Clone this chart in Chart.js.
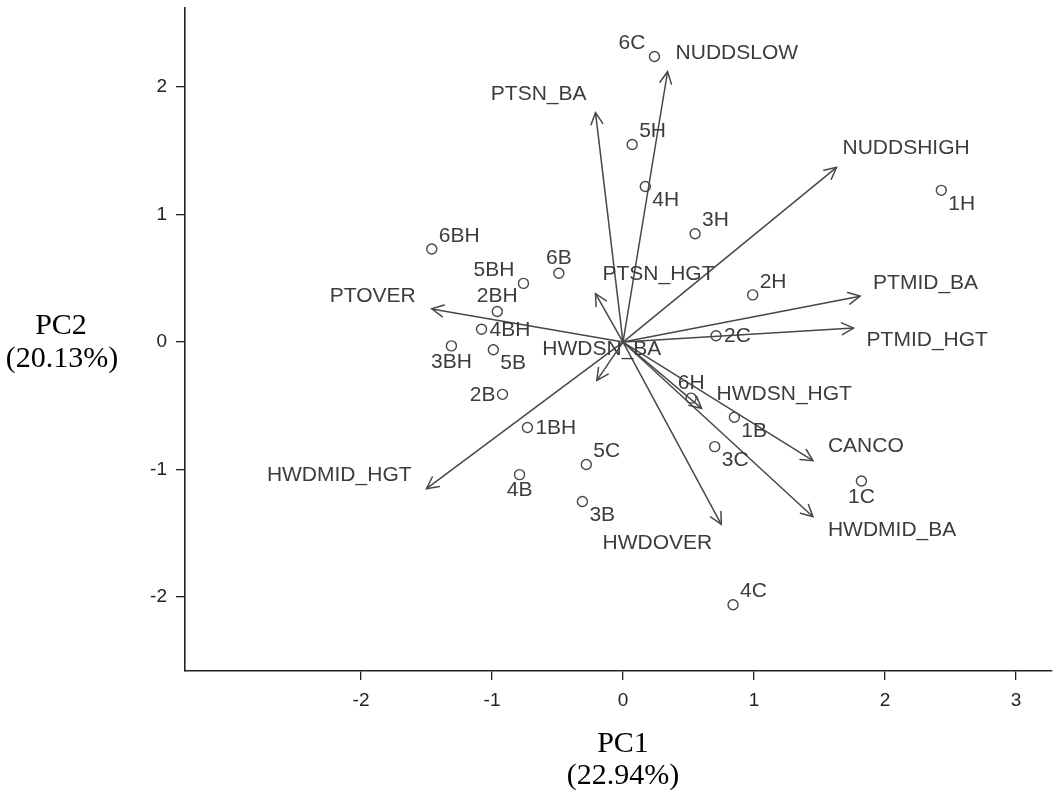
<!DOCTYPE html>
<html>
<head>
<meta charset="utf-8">
<title>PCA biplot</title>
<script src="https://cdn.jsdelivr.net/npm/chart.js@4.4.1/dist/chart.umd.min.js"></script>
<style>
  html, body { margin: 0; padding: 0; background: #ffffff; }
  canvas { display: block; }
</style>
</head>
<body>
<canvas id="biplot" width="1054" height="799"></canvas>
<script>
// Site scores on the first two principal components
const siteNames = ['6C', '5H', '4H', '3H', '1H', '2H', '2C', '6H', '1B', '3C', '1C', '4C',
                   '6BH', '6B', '5BH', '2BH', '4BH', '3BH', '5B', '2B', '1BH', '5C', '4B', '3B'];
const sitePC1 = [0.24, 0.07, 0.17, 0.55, 2.43, 0.99, 0.71, 0.52, 0.85, 0.70, 1.82, 0.84,
                 -1.46, -0.49, -0.76, -0.96, -1.08, -1.31, -0.99, -0.92, -0.73, -0.28, -0.79, -0.31];
const sitePC2 = [2.24, 1.55, 1.22, 0.85, 1.19, 0.37, 0.05, -0.44, -0.59, -0.82, -1.09, -2.06,
                 0.73, 0.54, 0.46, 0.24, 0.10, -0.03, -0.06, -0.41, -0.67, -0.96, -1.04, -1.25];

// Variable loadings (drawn as arrows from the origin)
const varNames = ['NUDDSLOW', 'PTSN_BA', 'NUDDSHIGH', 'PTMID_BA', 'PTMID_HGT', 'PTOVER', 'PTSN_HGT',
                  'HWDSN_BA', 'HWDMID_HGT', 'HWDSN_HGT', 'CANCO', 'HWDMID_BA', 'HWDOVER'];
const varPC1 = [0.34, -0.21, 1.63, 1.81, 1.76, -1.46, -0.21, -0.20, -1.50, 0.60, 1.45, 1.45, 0.75];
const varPC2 = [2.12, 1.80, 1.37, 0.36, 0.11, 0.26, 0.38, -0.30, -1.15, -0.52, -0.93, -1.37, -1.43];

// Axis ticks and titles
const xTicks = [-2, -1, 0, 1, 2, 3];
const yTicks = [-2, -1, 0, 1, 2];
const xTitle = ['PC1', '(22.94%)'];
const yTitle = ['PC2', '(20.13%)'];

// Where each site label sits relative to its marker
const siteLabelSide = {
  '6C': 'NW', '5H': 'NE', '4H': 'SE', '3H': 'NE', '1H': 'SE', '2H': 'NE', '2C': 'E', '6H': 'N',
  '1B': 'SE', '3C': 'SE', '1C': 'S', '4C': 'NE', '6BH': 'NE', '6B': 'N', '5BH': 'NW', '2BH': 'N',
  '4BH': 'E', '3BH': 'S', '5B': 'SE', '2B': 'W', '1BH': 'E', '5C': 'NE', '4B': 'S', '3B': 'SE'
};
// Pixel offsets of each variable label from its arrow tip
const varLabelPlace = {
  'NUDDSLOW':   { align: 'left',   dx: 8,   dy: -19 },
  'PTSN_BA':    { align: 'right',  dx: -9,  dy: -18 },
  'NUDDSHIGH':  { align: 'left',   dx: 6,   dy: -19 },
  'PTMID_BA':   { align: 'left',   dx: 13,  dy: -13 },
  'PTMID_HGT':  { align: 'left',   dx: 13,  dy: 12 },
  'PTOVER':     { align: 'right',  dx: -16, dy: -13 },
  'PTSN_HGT':   { align: 'left',   dx: 7,   dy: -19 },
  'HWDSN_BA':   { align: 'center', dx: 5,   dy: -31 },
  'HWDMID_HGT': { align: 'right',  dx: -15, dy: -13 },
  'HWDSN_HGT':  { align: 'left',   dx: 15,  dy: -14 },
  'CANCO':      { align: 'left',   dx: 15,  dy: -14 },
  'HWDMID_BA':  { align: 'left',   dx: 15,  dy: 13 },
  'HWDOVER':    { align: 'right',  dx: -9,  dy: 19 }
};

const INK = '#474747';
const TEXT = '#3c3c3c';
const LABEL_FONT = '21px "Liberation Sans", Arial, sans-serif';
const TITLE_FONT = '30px "Liberation Serif", "Times New Roman", serif';

Chart.defaults.font.family = '"Liberation Sans", Arial, sans-serif';

const siteData = siteNames.map((n, i) => ({ x: sitePC1[i], y: sitePC2[i] }));

const arrowSets = varNames.map((n, i) => ({
  label: n,
  data: [{ x: 0, y: 0 }, { x: varPC1[i], y: varPC2[i] }],
  showLine: true,
  borderColor: INK,
  borderWidth: 1.5,
  pointRadius: 0,
  pointHoverRadius: 0,
  fill: false
}));

const biplotDecor = {
  id: 'biplotDecor',
  afterDatasetsDraw(chart) {
    const ctx = chart.ctx;
    const xs = chart.scales.x, ys = chart.scales.y;
    const ox = xs.getPixelForValue(0), oy = ys.getPixelForValue(0);
    ctx.save();

    // open arrowheads on the loading vectors
    ctx.strokeStyle = INK;
    ctx.lineWidth = 1.5;
    ctx.lineCap = 'round';
    varNames.forEach((n, i) => {
      const tx = xs.getPixelForValue(varPC1[i]);
      const ty = ys.getPixelForValue(varPC2[i]);
      const a = Math.atan2(ty - oy, tx - ox);
      const len = 13, spread = 0.47;
      ctx.beginPath();
      ctx.moveTo(tx - len * Math.cos(a - spread), ty - len * Math.sin(a - spread));
      ctx.lineTo(tx, ty);
      ctx.lineTo(tx - len * Math.cos(a + spread), ty - len * Math.sin(a + spread));
      ctx.stroke();
    });

    // variable labels
    ctx.fillStyle = TEXT;
    ctx.font = LABEL_FONT;
    ctx.textBaseline = 'middle';
    varNames.forEach((n, i) => {
      const p = varLabelPlace[n];
      const tx = xs.getPixelForValue(varPC1[i]);
      const ty = ys.getPixelForValue(varPC2[i]);
      ctx.textAlign = p.align;
      ctx.fillText(n, tx + p.dx, ty + p.dy);
    });

    // site labels
    const sideOffsets = {
      N:  ['center', 0, -15], S: ['center', 0, 16],
      E:  ['left', 8, 1],     W: ['right', -7, 1],
      NE: ['left', 7, -13],   SE: ['left', 7, 14],
      NW: ['right', -9, -13], SW: ['right', -8, 14]
    };
    siteNames.forEach((n, i) => {
      const [al, dx, dy] = sideOffsets[siteLabelSide[n]];
      const px = xs.getPixelForValue(sitePC1[i]);
      const py = ys.getPixelForValue(sitePC2[i]);
      ctx.textAlign = al;
      ctx.fillText(n, px + dx, py + dy);
    });

    // axis titles, set horizontally
    ctx.fillStyle = '#000';
    ctx.font = TITLE_FONT;
    ctx.textAlign = 'center';
    const area = chart.chartArea;
    ctx.fillText(yTitle[0], 61, oy - 16);
    ctx.fillText(yTitle[1], 62, oy + 17);
    ctx.fillText(xTitle[0], ox, area.bottom + 73);
    ctx.fillText(xTitle[1], ox, area.bottom + 105);
    ctx.restore();
  }
};

const axisTickFont = { family: '"Liberation Sans", Arial, sans-serif', size: 19 };

new Chart(document.getElementById('biplot'), {
  type: 'scatter',
  data: {
    datasets: [
      {
        label: 'sites',
        data: siteData,
        pointStyle: 'circle',
        pointRadius: 5,
        pointHoverRadius: 5,
        pointBorderWidth: 1.4,
        pointBorderColor: INK,
        pointBackgroundColor: 'rgba(0,0,0,0)',
        showLine: false
      },
      ...arrowSets
    ]
  },
  options: {
    responsive: false,
    animation: false,
    events: [],
    layout: { autoPadding: false, padding: { top: 8, right: 2, left: 0, bottom: 0 } },
    plugins: {
      legend: { display: false },
      tooltip: { enabled: false }
    },
    scales: {
      x: {
        type: 'linear',
        min: -3.344,
        max: 3.275,
        afterBuildTicks: s => { s.ticks = xTicks.map(v => ({ value: v })); },
        afterFit: s => { s.height = 128; s.paddingLeft = 0; s.paddingRight = 0; },
        grid: { display: true, drawOnChartArea: false, drawTicks: true, tickLength: 9, color: '#222', lineWidth: 1.3 },
        border: { display: true, color: '#222', width: 1.6 },
        ticks: { font: axisTickFont, color: '#222', padding: 9, maxRotation: 0, autoSkip: false }
      },
      y: {
        type: 'linear',
        min: -2.58,
        max: 2.62,
        afterBuildTicks: s => { s.ticks = yTicks.map(v => ({ value: v })); },
        afterFit: s => { s.width = 185; s.paddingTop = 0; s.paddingBottom = 0; },
        grid: { display: true, drawOnChartArea: false, drawTicks: true, tickLength: 9, color: '#222', lineWidth: 1.3 },
        border: { display: true, color: '#222', width: 1.6 },
        ticks: { font: axisTickFont, color: '#222', padding: 9, autoSkip: false }
      }
    }
  },
  plugins: [biplotDecor]
});
</script>
</body>
</html>
